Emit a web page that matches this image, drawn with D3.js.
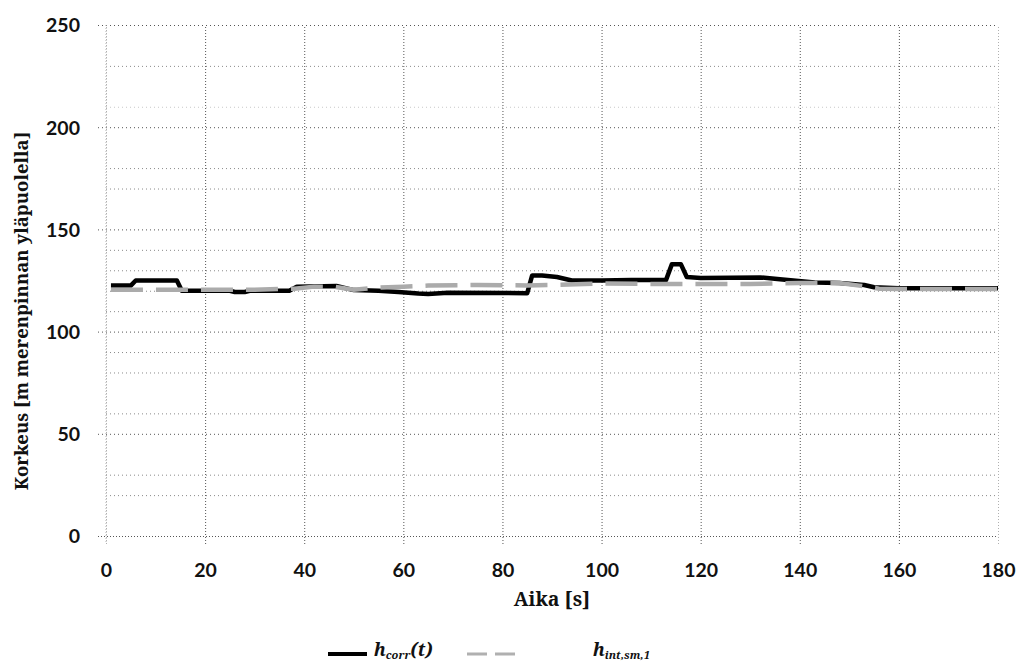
<!DOCTYPE html>
<html>
<head>
<meta charset="utf-8">
<script src="https://cdn.jsdelivr.net/npm/d3@7"></script>
<style>
  body { margin: 0; background: #fff; }
</style>
</head>
<body>
<div id="chart"></div>
<script>
// h_corr(t)
const tCorr = [1, 5, 6, 14.3, 15.3, 20, 25, 26, 28, 29, 37, 38.5, 46.5, 50, 55, 59, 63, 65, 69, 85, 86, 88, 91, 94, 100, 106, 113, 114.2, 116, 117.2, 120, 132, 136, 143, 148, 153, 155, 160, 180]
const hCorr = [122.5, 122.5, 125, 125, 120, 120, 120, 119.4, 119.4, 120, 120, 122, 122.3, 120.3, 120, 119.4, 118.6, 118.4, 119, 118.8, 127.5, 127.5, 126.7, 125, 125, 125.2, 125.2, 133, 133, 126.7, 126.2, 126.5, 125.6, 124, 123.8, 122.8, 121.7, 121.2, 121.2]

// h_int,sm,1
const tInt = [1, 10, 20, 30, 38, 42, 46, 50, 55, 60, 65, 75, 85, 90, 100, 110, 120, 130, 140, 148, 152, 156, 160, 180]
const hInt = [120.5, 120.5, 120.5, 120.5, 121, 122, 122, 120.5, 121.5, 122, 122.5, 122.8, 122.6, 122.8, 123.5, 123.3, 123.3, 123.3, 123.8, 123.8, 122.5, 121, 120.8, 120.8]

const xTicks = [0, 20, 40, 60, 80, 100, 120, 140, 160, 180]
const yTicks = [0, 50, 100, 150, 200, 250]
// only the minor lines that survive in the picture
const yMinor = [20, 30, 60, 80, 90, 110, 120, 130, 140, 170, 180, 210, 230]

const width = 1020, height = 662
const tickFont = 'Lato, "Open Sans", sans-serif'
const serifFont = '"Noto Serif", "Liberation Serif", serif'

const x = d3.scaleLinear().domain([0, 180]).range([106, 998])
const y = d3.scaleLinear().domain([0, 250]).range([536, 25])
const plotW = x(180) - x(0), plotH = y(0) - y(250)

const svg = d3.select('#chart').append('svg')
    .attr('width', width)
    .attr('height', height)

// minor horizontal grid
svg.append('g')
    .attr('transform', `translate(${x(0)},0)`)
    .call(d3.axisLeft(y).tickValues(yMinor).tickSize(-plotW).tickFormat(''))
    .call(g => g.select('.domain').remove())
    .selectAll('line')
    .attr('stroke', (d) => d == 210 ? '#c8c8c8' : '#8a8a8a')
    .attr('stroke-dasharray', '1,3')

// x axis + vertical grid
const xAxis = svg.append('g')
    .attr('transform', `translate(0,${y(0)})`)
    .call(d3.axisBottom(x).tickValues(xTicks).tickSize(-plotH).tickPadding(0))
xAxis.select('.domain').remove()
xAxis.selectAll('line')
    .attr('y1', 8)
    .attr('stroke', (d) => (d == 0 || d == 180) ? '#b0b0b0' : '#555')
    .attr('stroke-dasharray', '1,2')
xAxis.selectAll('text')
    .attr('y', 41)
    .attr('dy', 0)

// y axis + major horizontal grid
const yAxis = svg.append('g')
    .attr('transform', `translate(${x(0)},0)`)
    .call(d3.axisLeft(y).tickValues(yTicks).tickSize(-plotW).tickPadding(0))
yAxis.select('.domain').remove()
yAxis.selectAll('line')
    .attr('x1', -8)
    .attr('stroke', '#555')
    .attr('stroke-dasharray', (d) => d == 0 ? '1,2' : '1,3')
yAxis.selectAll('text')
    .attr('x', -26)
    .attr('dy', '0.35em')

svg.selectAll('.tick text')
    .style('font-family', tickFont)
    .style('font-weight', 700)
    .style('font-size', '19.5px')
    .style('fill', '#111')

// faint y axis line
svg.append('line')
    .attr('x1', x(0)).attr('x2', x(0))
    .attr('y1', y(250)).attr('y2', y(0) + 8)
    .attr('stroke', '#b0b0b0')
    .attr('stroke-dasharray', '1,2')

// series
const line = d3.line()
    .x((d) => x(d[0]))
    .y((d) => y(d[1]))

const corrData = tCorr.map((t, i) => [t, hCorr[i]])
const intData = tInt.map((t, i) => [t, hInt[i]])

svg.append('path')
    .datum(corrData)
    .attr('d', line)
    .attr('fill', 'none')
    .attr('stroke', '#000')
    .attr('stroke-width', 4.5)
    .attr('stroke-linejoin', 'round')

svg.append('path')
    .datum(intData)
    .attr('d', line)
    .attr('fill', 'none')
    .attr('stroke', '#ababab')
    .attr('stroke-width', 4.5)
    .attr('stroke-dasharray', '32,13')

// axis titles
svg.append('text')
    .attr('x', (x(0) + x(180)) / 2)
    .attr('y', 606)
    .attr('text-anchor', 'middle')
    .style('font-family', serifFont)
    .style('font-weight', 700)
    .style('font-size', '19.5px')
    .style('fill', '#111')
    .text('Aika [s]')

svg.append('text')
    .attr('transform', 'translate(28,311) rotate(-90)')
    .attr('text-anchor', 'middle')
    .style('font-family', serifFont)
    .style('font-weight', 700)
    .style('font-size', '18.5px')
    .style('fill', '#111')
    .text('Korkeus [m merenpinnan yläpuolella]')

// legend
const legY = 654
svg.append('line')
    .attr('x1', 328).attr('x2', 367)
    .attr('y1', legY).attr('y2', legY)
    .attr('stroke', '#000')
    .attr('stroke-width', 4)

const t1 = svg.append('text')
    .attr('x', 374)
    .attr('y', 656)
    .style('font-family', serifFont)
    .style('font-weight', 700)
    .style('font-style', 'italic')
    .style('font-size', '18px')
    .style('fill', '#111')
t1.append('tspan').text('h')
t1.append('tspan').attr('dy', 3).style('font-size', '11px').text('corr')
t1.append('tspan').attr('dy', -3).text('(t)')

svg.append('line')
    .attr('x1', 467).attr('x2', 515)
    .attr('y1', legY).attr('y2', legY)
    .attr('stroke', '#b0b0b0')
    .attr('stroke-width', 3)
    .attr('stroke-dasharray', '20,8')

const t2 = svg.append('text')
    .attr('x', 593)
    .attr('y', 656)
    .style('font-family', serifFont)
    .style('font-weight', 700)
    .style('font-style', 'italic')
    .style('font-size', '18px')
    .style('fill', '#111')
t2.append('tspan').text('h')
t2.append('tspan').attr('dy', 3).style('font-size', '11px').text('int,sm,1')
</script>
</body>
</html>
